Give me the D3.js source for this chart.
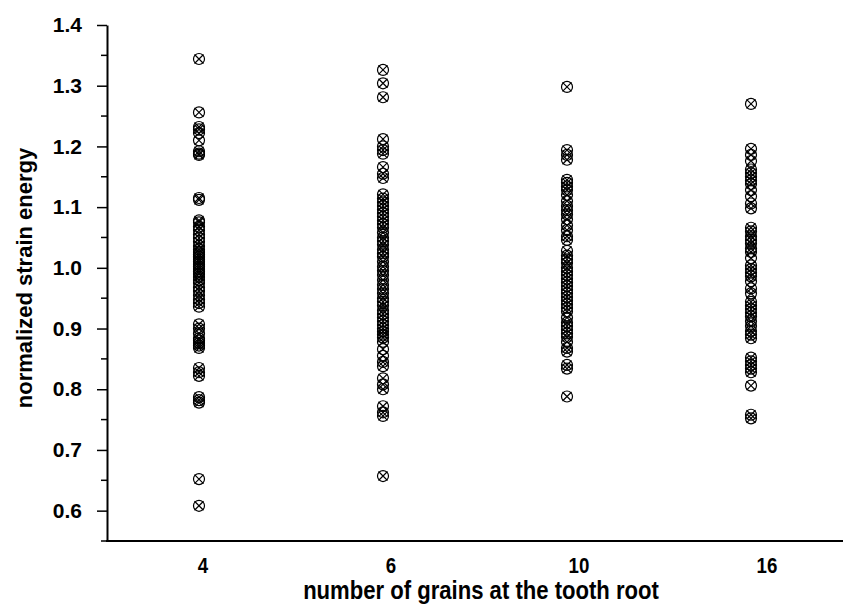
<!DOCTYPE html>
<html>
<head>
<meta charset="utf-8">
<script src="https://cdn.jsdelivr.net/npm/d3@7"></script>
<style>
  body { margin: 0; background: #fff; }
  text { font-family: Arial, "Liberation Sans", sans-serif; font-weight: bold; fill: #000; }
</style>
</head>
<body>
<svg width="845" height="604"></svg>
<script>
var categories = ["4", "6", "10", "16"];

var grains4 = [1.344, 1.256, 1.232, 1.228, 1.222, 1.210, 1.192, 1.188, 1.186, 1.115, 1.112,
    1.078, 1.075, 1.068, 1.062, 1.055, 1.049, 1.043, 1.036, 1.030, 1.026, 1.022, 1.018, 1.014,
    1.010, 1.006, 1.002, 0.998, 0.994, 0.990, 0.985, 0.980, 0.975, 0.968, 0.962, 0.955, 0.948,
    0.942, 0.936, 0.907, 0.900, 0.892, 0.884, 0.880, 0.876, 0.872, 0.868, 0.835, 0.828, 0.822,
    0.787, 0.782, 0.778, 0.652, 0.608];
var grains6 = [1.326, 1.304, 1.281, 1.212, 1.200, 1.194, 1.188, 1.166, 1.155, 1.148, 1.121,
    1.114, 1.108, 1.102, 1.096, 1.090, 1.084, 1.078, 1.072, 1.066, 1.058, 1.050, 1.044, 1.038,
    1.030, 1.024, 1.018, 1.010, 1.002, 0.995, 0.988, 0.980, 0.972, 0.965, 0.958, 0.950, 0.944,
    0.938, 0.930, 0.924, 0.918, 0.912, 0.906, 0.900, 0.895, 0.890, 0.885, 0.878, 0.866, 0.855,
    0.845, 0.838, 0.818, 0.808, 0.800, 0.772, 0.762, 0.756, 0.657];
var grains10 = [1.298, 1.194, 1.186, 1.178, 1.145, 1.140, 1.134, 1.128, 1.120, 1.110, 1.102,
    1.095, 1.088, 1.080, 1.070, 1.062, 1.052, 1.046, 1.028, 1.020, 1.014, 1.008, 1.000, 0.994,
    0.988, 0.982, 0.976, 0.970, 0.964, 0.958, 0.952, 0.946, 0.940, 0.934, 0.928, 0.918, 0.910,
    0.904, 0.898, 0.892, 0.886, 0.878, 0.868, 0.862, 0.840, 0.834, 0.788];
var grains16 = [1.270, 1.196, 1.186, 1.176, 1.162, 1.156, 1.150, 1.144, 1.138, 1.128, 1.118,
    1.106, 1.098, 1.066, 1.060, 1.052, 1.046, 1.040, 1.032, 1.026, 1.016, 1.004, 0.998, 0.992,
    0.986, 0.978, 0.966, 0.958, 0.944, 0.938, 0.932, 0.926, 0.920, 0.912, 0.904, 0.896, 0.890,
    0.884, 0.852, 0.846, 0.840, 0.834, 0.828, 0.806, 0.758, 0.752];

var yTicks = [0.6, 0.7, 0.8, 0.9, 1.0, 1.1, 1.2, 1.3, 1.4];
var yMinorTicks = [0.55, 0.65, 0.75, 0.85, 0.95, 1.05, 1.15, 1.25, 1.35];

var seriesList = [grains4, grains6, grains10, grains16];
var points = [];
for (var i = 0; i < categories.length; i++)
{
    seriesList[i].forEach(function (v) { points.push({cat: categories[i], value: v}); });
}

var svg = d3.select("svg");

const plotLeft = 107, plotRight = 843, plotTop = 25, plotBottom = 541;

var xScale = d3.scalePoint().domain(categories).range([199, 751]);
// tick labels sit a little right of the point columns in the original
var xLabelScale = d3.scalePoint().domain(categories).range([203, 767]);
var yScale = d3.scaleLinear().domain([0.55, 1.4]).range([plotBottom, plotTop]);

// y axis
var yAxis = svg.append("g").attr("transform", "translate(" + plotLeft + ",0)");
yAxis.call(d3.axisLeft(yScale).tickValues(yTicks).tickFormat(d3.format(".1f"))
    .tickSize(10).tickPadding(15).tickSizeOuter(0));
yAxis.select(".domain").attr("stroke-width", 2);
yAxis.selectAll(".tick line").attr("stroke-width", 1.5);
yAxis.selectAll(".tick text").style("font-size", "21px").attr("font-family", null);

yAxis.selectAll(".minor").data(yMinorTicks).enter().append("line")
    .attr("class", "minor")
    .attr("x1", -6).attr("x2", 0)
    .attr("y1", function (d) { return yScale(d); })
    .attr("y2", function (d) { return yScale(d); })
    .attr("stroke", "#000").attr("stroke-width", 1.5);

// x axis
svg.append("line")
    .attr("x1", plotLeft - 1).attr("x2", plotRight)
    .attr("y1", plotBottom).attr("y2", plotBottom)
    .attr("stroke", "#000").attr("stroke-width", 2);

svg.selectAll(".xlab").data(categories).enter().append("text")
    .attr("class", "xlab")
    .attr("transform", function (d) { return "translate(" + xLabelScale(d) + ",573) scale(0.85,1)"; })
    .attr("text-anchor", "middle")
    .style("font-size", "22px")
    .text(function (d) { return d; });

// titles
svg.append("text")
    .attr("transform", "translate(481,599) scale(0.85,1)")
    .attr("text-anchor", "middle")
    .style("font-size", "26px")
    .text("number of grains at the tooth root");

svg.append("text")
    .attr("transform", "translate(32,278) rotate(-90)")
    .attr("text-anchor", "middle")
    .style("font-size", "22px")
    .text("normalized strain energy");

// markers: circle with an x inside
var r = 5.5;
var marks = svg.append("g").selectAll("g").data(points).enter().append("g")
    .attr("transform", function (d) { return "translate(" + xScale(d.cat) + "," + yScale(d.value) + ")"; })
    .attr("fill", "none").attr("stroke", "#000").attr("stroke-width", 1.2);
marks.append("circle").attr("r", r);
marks.append("path").attr("d", "M-4.5,-4.5L4.5,4.5M-4.5,4.5L4.5,-4.5");
</script>
</body>
</html>
